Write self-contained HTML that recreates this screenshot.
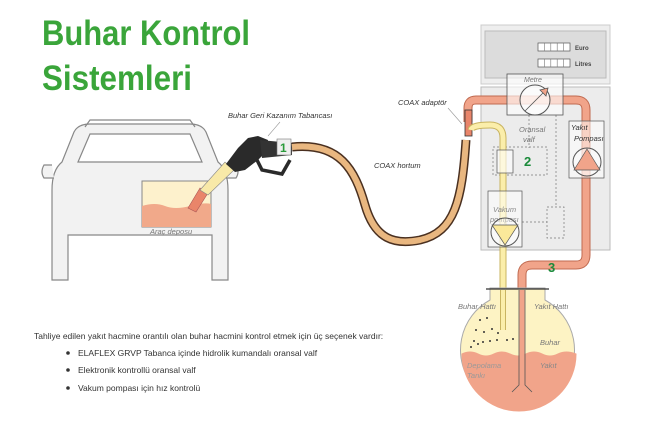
<!DOCTYPE html>
<html><head><meta charset="utf-8"><style>
html,body{margin:0;padding:0;background:#fff;width:656px;height:434px;overflow:hidden}
svg{display:block}
text{font-family:"Liberation Sans",sans-serif}
</style></head><body>
<svg width="656" height="434" viewBox="0 0 656 434" xmlns="http://www.w3.org/2000/svg">
<text x="42" y="45" font-size="35" font-weight="bold" fill="#3aa53a" textLength="208" lengthAdjust="spacingAndGlyphs">Buhar Kontrol</text>
<text x="42" y="90" font-size="35" font-weight="bold" fill="#3aa53a" textLength="150" lengthAdjust="spacingAndGlyphs">Sistemleri</text>

<!-- car -->
<g fill="#f2f2f2" stroke="#888" stroke-width="1.2">
<path d="M52,280 L52,190 Q52,170 62,162 L74,132 Q78,124 90,124 L190,124 Q202,124 206,132 L218,162 Q228,170 228,190 L228,280 L212,280 L212,235 L68,235 L68,280 Z"/>
<path d="M78,162 L90,134 L190,134 L202,162 Z" fill="#fff"/>
<path d="M85,127 L90,120 L190,120 L195,127" fill="none"/>
<path d="M52,165 L44,165 Q40,172 44,178 L54,178" />
<path d="M228,165 L236,165 Q240,172 236,178 L226,178"/>
</g>
<rect x="142" y="181" width="69" height="46" fill="#fdf1cc" stroke="#888"/>
<path d="M142,206 Q155,202 165,206 T190,206 T211,204 L211,227 L142,227 Z" fill="#f1a98a"/>
<text x="150" y="234" font-size="7.5" font-style="italic" fill="#777">Araç deposu</text>
<!-- nozzle -->
<path d="M188,208 L200,188 L208,193 L196,212 Z" fill="#e9856a" stroke="#a55" stroke-width="0.6"/>
<path d="M200,190 L225,162 L234,170 L208,195 Z" fill="#f8e9a8" stroke="#888" stroke-width="0.6"/>
<path d="M226,164 L238,148 L248,138 L258,136 L268,140 L266,152 L258,160 L245,170 L235,172 Z" fill="#2a2a2a"/>
<path d="M256,158 L262,170 L282,174 L290,160" fill="none" stroke="#2a2a2a" stroke-width="3.5"/>
<path d="M260,140 L292,143 L292,155 L262,158 Z" fill="#333"/>
<rect x="277" y="139" width="14" height="16" fill="#eee" stroke="#777" stroke-width="0.6"/>
<text x="280" y="152" font-size="12" font-weight="bold" fill="#2a9a3a">1</text>
<line x1="268" y1="136" x2="280" y2="122" stroke="#999" stroke-width="0.6"/>
<text x="228" y="118" font-size="7.5" font-style="italic" fill="#333">Buhar Geri Kazanım Tabancası</text>
<!-- hose -->
<path d="M292,147 C340,142 355,170 365,205 C375,240 395,245 420,240 C455,232 462,200 466,140" fill="none" stroke="#4a3020" stroke-width="9"/>
<path d="M292,147 C340,142 355,170 365,205 C375,240 395,245 420,240 C455,232 462,200 466,140" fill="none" stroke="#e9b780" stroke-width="6"/>
<text x="374" y="168" font-size="7.5" font-style="italic" fill="#333">COAX hortum</text>
<text x="398" y="105" font-size="7.5" font-style="italic" fill="#333">COAX adaptör</text>
<line x1="448" y1="108" x2="462" y2="124" stroke="#999" stroke-width="0.6"/>

<!-- dispenser -->
<rect x="481" y="25" width="129" height="59" fill="#eee" stroke="#ccc"/>
<rect x="485" y="31" width="121" height="47" fill="#dcdcdc" stroke="#bbb"/>
<g fill="#fff" stroke="#555" stroke-width="0.7">
<rect x="538" y="43" width="32" height="8"/><rect x="538" y="59" width="32" height="8"/></g>
<g stroke="#777" stroke-width="0.6">
<line x1="544.4" y1="43" x2="544.4" y2="51"/><line x1="550.8" y1="43" x2="550.8" y2="51"/><line x1="557.2" y1="43" x2="557.2" y2="51"/><line x1="563.6" y1="43" x2="563.6" y2="51"/>
<line x1="544.4" y1="59" x2="544.4" y2="67"/><line x1="550.8" y1="59" x2="550.8" y2="67"/><line x1="557.2" y1="59" x2="557.2" y2="67"/><line x1="563.6" y1="59" x2="563.6" y2="67"/></g>
<text x="575" y="50" font-size="6" font-weight="bold" fill="#444">Euro</text>
<text x="575" y="66" font-size="6" font-weight="bold" fill="#444">Litres</text>
<rect x="481" y="87" width="129" height="163" fill="#ececec" stroke="#bbb"/>
<g fill="none" stroke="#777" stroke-width="0.7" stroke-dasharray="2,2">
<line x1="529" y1="115" x2="529" y2="148"/><line x1="556" y1="115" x2="556" y2="207"/>
<rect x="493" y="147" width="54" height="28"/><rect x="547" y="207" width="17" height="31"/>
<line x1="522" y1="222" x2="547" y2="222"/>
</g>
<!-- fuel pipe -->
<path d="M468,122 L468,108 Q468,100 476,100 L576,100 Q586,100 586,110 L586,255 Q586,265 576,265 L532,265 Q522,265 522,275 L522,385" fill="none" stroke="#c06a50" stroke-width="9"/>
<path d="M468,122 L468,108 Q468,100 476,100 L576,100 Q586,100 586,110 L586,255 Q586,265 576,265 L532,265 Q522,265 522,275 L522,385" fill="none" stroke="#f1a48a" stroke-width="7"/>
<rect x="465" y="110" width="7" height="26" fill="#e9856a" stroke="#333" stroke-width="0.8"/>
<!-- vapor pipe -->
<path d="M471,130 Q472,125 490,125 Q503,125 503,138 L503,325" fill="none" stroke="#c9b460" stroke-width="7"/>
<path d="M471,130 Q472,125 490,125 Q503,125 503,138 L503,325" fill="none" stroke="#fbeeaa" stroke-width="5"/>
<rect x="507" y="74" width="56" height="41" fill="#fff" fill-opacity="0.6" stroke="#555" stroke-width="0.8"/>
<text x="524" y="82" font-size="7" font-style="italic" fill="#777">Metre</text>
<circle cx="535" cy="100" r="15" fill="#fff" fill-opacity="0.5" stroke="#555"/>
<path d="M525,111 L543,93 L546,96 L548,88 L540,90 L543,93" fill="#f1a48a" stroke="#555" stroke-width="0.8"/>
<rect x="497" y="150" width="16" height="23" fill="#fff" fill-opacity="0.6" stroke="#555" stroke-width="0.7"/>
<text x="519" y="132" font-size="7.5" font-style="italic" fill="#777">Oransal</text>
<text x="523" y="142" font-size="7.5" font-style="italic" fill="#777">valf</text>
<text x="524" y="166" font-size="13" font-weight="bold" fill="#1a8a3a">2</text>
<rect x="569" y="121" width="35" height="57" fill="#fff" fill-opacity="0.5" stroke="#555" stroke-width="0.7"/>
<text x="571" y="130" font-size="7.5" font-style="italic" fill="#333">Yakıt</text>
<text x="574" y="141" font-size="7.5" font-style="italic" fill="#333">Pompası</text>
<circle cx="587" cy="162" r="14" fill="#fff" fill-opacity="0.4" stroke="#555"/>
<path d="M587,149 L600,170 L574,170 Z" fill="#f1a48a" stroke="#555" stroke-width="0.7"/>
<rect x="488" y="191" width="34" height="56" fill="#fff" fill-opacity="0.5" stroke="#555" stroke-width="0.7"/>
<text x="493" y="212" font-size="7.5" font-style="italic" fill="#888">Vakum</text>
<text x="490" y="222" font-size="7.5" font-style="italic" fill="#888">pompası</text>
<circle cx="505" cy="232" r="14" fill="#fff" fill-opacity="0.4" stroke="#555"/>
<path d="M492,225 L518,225 L505,245 Z" fill="#fbe99a" stroke="#555" stroke-width="0.7"/>
<text x="548" y="272" font-size="13" font-weight="bold" fill="#1a8a3a">3</text>

<!-- tank -->
<path d="M490,288 L490,300 A57,57 0 1,0 545,300 L545,288 Z" fill="#fdf3c4" stroke="#aaa" stroke-width="1"/>
<path d="M462,354 Q470,350 478,354 T494,354 T510,354 T526,354 T542,354 T558,354 T576,354 A57,57 0 0,1 462,354 Z" fill="#f1a48a" stroke="#f1a48a"/>
<line x1="486" y1="289" x2="549" y2="289" stroke="#333" stroke-width="1.2"/>
<path d="M503,290 L503,330" stroke="#c9b460" stroke-width="6"/>
<path d="M503,290 L503,330" stroke="#fbeeaa" stroke-width="4"/>
<path d="M519,290 L519,385 L512,392 M525,290 L525,385 L532,392" fill="none" stroke="#555" stroke-width="0.8"/>
<line x1="522" y1="290" x2="522" y2="385" stroke="#f1a48a" stroke-width="5"/>
<g fill="#333"><circle cx="480" cy="320" r="1"/><circle cx="487" cy="318" r="1"/><circle cx="476" cy="330" r="1"/><circle cx="484" cy="332" r="1"/><circle cx="492" cy="329" r="1"/><circle cx="498" cy="333" r="1"/><circle cx="474" cy="341" r="1"/><circle cx="483" cy="342" r="1"/><circle cx="490" cy="341" r="1"/><circle cx="497" cy="340" r="1"/><circle cx="507" cy="340" r="1"/><circle cx="513" cy="339" r="1"/><circle cx="471" cy="347" r="1"/><circle cx="478" cy="344" r="1"/></g>
<text x="458" y="309" font-size="7.5" font-style="italic" fill="#777">Buhar Hattı</text>
<text x="534" y="309" font-size="7.5" font-style="italic" fill="#777">Yakıt Hattı</text>
<text x="540" y="345" font-size="7.5" font-style="italic" fill="#777">Buhar</text>
<text x="540" y="368" font-size="7.5" font-style="italic" fill="#888">Yakıt</text>
<text x="467" y="368" font-size="7.5" font-style="italic" fill="#999">Depolama</text>
<text x="467" y="378" font-size="7.5" font-style="italic" fill="#999">Tankı</text>

<text x="34" y="339" font-size="8.5" fill="#333">Tahliye edilen yakıt hacmine orantılı olan buhar hacmini kontrol etmek için üç seçenek vardır:</text>
<g font-size="8.5" fill="#333">
<circle cx="68" cy="353" r="1.8"/><text x="78" y="356">ELAFLEX GRVP Tabanca içinde hidrolik kumandalı oransal valf</text>
<circle cx="68" cy="370" r="1.8"/><text x="78" y="373">Elektronik kontrollü oransal valf</text>
<circle cx="68" cy="388" r="1.8"/><text x="78" y="391">Vakum pompası için hız kontrolü</text>
</g>
</svg>
</body></html>
